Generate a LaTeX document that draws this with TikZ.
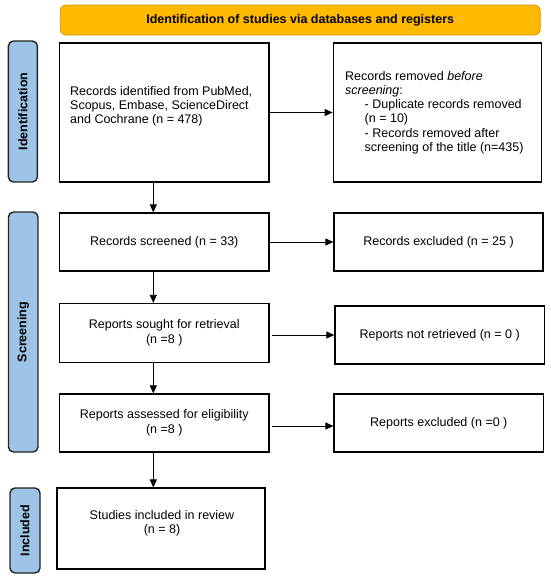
\documentclass[tikz,border=0pt]{standalone}
\usepackage{fontspec}
\setmainfont{Liberation Sans}
\usetikzlibrary{arrows.meta}
\definecolor{bannerfill}{RGB}{255,185,0}
\definecolor{bannerline}{RGB}{212,152,0}
\definecolor{sidefill}{RGB}{157,195,230}
\definecolor{sideline}{RGB}{35,35,35}
\begin{document}
\begin{tikzpicture}[x=1pt,y=-1pt,
  box/.style={draw=black, line width=1.2pt, inner sep=0pt, font=\fontsize{12.5}{14.5}\selectfont, align=center},
  txt/.style={inner sep=0pt, font=\fontsize{12.5}{14.2}\selectfont, align=left},
  side/.style={draw=sideline, fill=sidefill, line width=1.4pt, rounded corners=5pt, inner sep=0pt, rotate=90, font=\bfseries\fontsize{12.5}{14}\selectfont},
  banner/.style={draw=bannerline, fill=bannerfill, line width=0.8pt, rounded corners=6pt, inner sep=0pt, font=\bfseries\fontsize{12.5}{14}\selectfont},
  arr/.style={-{Triangle[length=8pt,width=7pt]}, line width=0.8pt}
]
\useasboundingbox (0,0) rectangle (550,579);

% banner
\node[banner, minimum width=480pt, minimum height=30pt] (ban) at (300.25,20) {Identification of studies via databases and registers};

% side bars
\node[side, minimum width=141pt, minimum height=29pt] (sid) at (22.9,111.5) {Identification};
\node[side, minimum width=240pt, minimum height=29.5pt] (sscr) at (23.2,332) {Screening};
\node[side, minimum width=85pt, minimum height=30pt] (sinc) at (25,530.5) {Included};

% boxes
\node[box, minimum width=209.5pt, minimum height=139pt] (b1) at (164.25,112.5) {};
\node[txt, anchor=west] (t1) at (70,106) {Records identified from PubMed,\\Scopus, Embase, ScienceDirect\\and Cochrane (n = 478)};

\node[box, minimum width=208.5pt, minimum height=139pt] (r1) at (437.5,112.5) {};
\node[txt, anchor=west] (tr1) at (345,112.5) {Records removed \textit{before}\\\textit{screening}:\\\hspace*{19.5pt}- Duplicate records removed\\\hspace*{19.5pt}(n = 10)\\\hspace*{19.5pt}- Records removed after\\\hspace*{19.5pt}screening of the title (n=435)};

\node[box, minimum width=209.5pt, minimum height=58pt] (b2) at (164.25,242) {Records screened (n = 33)};
\node[box, minimum width=209pt, minimum height=58pt] (r2) at (438.5,242) {Records excluded (n = 25 )};

\node[box, minimum width=209.5pt, minimum height=59pt] (b3) at (164.25,333) {Reports sought for retrieval\\(n =8 )};
\node[box, minimum width=209.5pt, minimum height=58pt] (r3) at (439.7,335) {Reports not retrieved (n = 0 )};

\node[box, minimum width=209.5pt, minimum height=58pt] (b4) at (164.25,423) {Reports assessed for eligibility\\(n =8 )};
\node[box, minimum width=209.5pt, minimum height=58pt] (r4) at (438.8,423) {Reports excluded (n =0 )};

\node[box, minimum width=208pt, minimum height=81pt] (b5) at (161,528.5) {};
\node[txt, align=center] (t5) at (162,523) {Studies included in review\\(n = 8)};

% connectors
\coordinate (vx) at (153.3,0);
\draw[arr] (b1.east) -- (r1.west);
\draw[arr] (b2.east) -- (r2.west);
\draw[arr] ([xshift=2.5pt]b3.east |- r3.west) -- (r3.west);
\draw[arr] ([xshift=2.5pt,yshift=-3pt]b4.east) -- ([yshift=-3pt]r4.west);

\draw[arr] (b1.south -| vx) -- (b2.north -| vx);
\draw[arr] (b2.south -| vx) -- (b3.north -| vx);
\draw[arr] (b3.south -| vx) -- (b4.north -| vx);
\draw[arr] (b4.south -| vx) -- (b5.north -| vx);
\end{tikzpicture}
\end{document}
